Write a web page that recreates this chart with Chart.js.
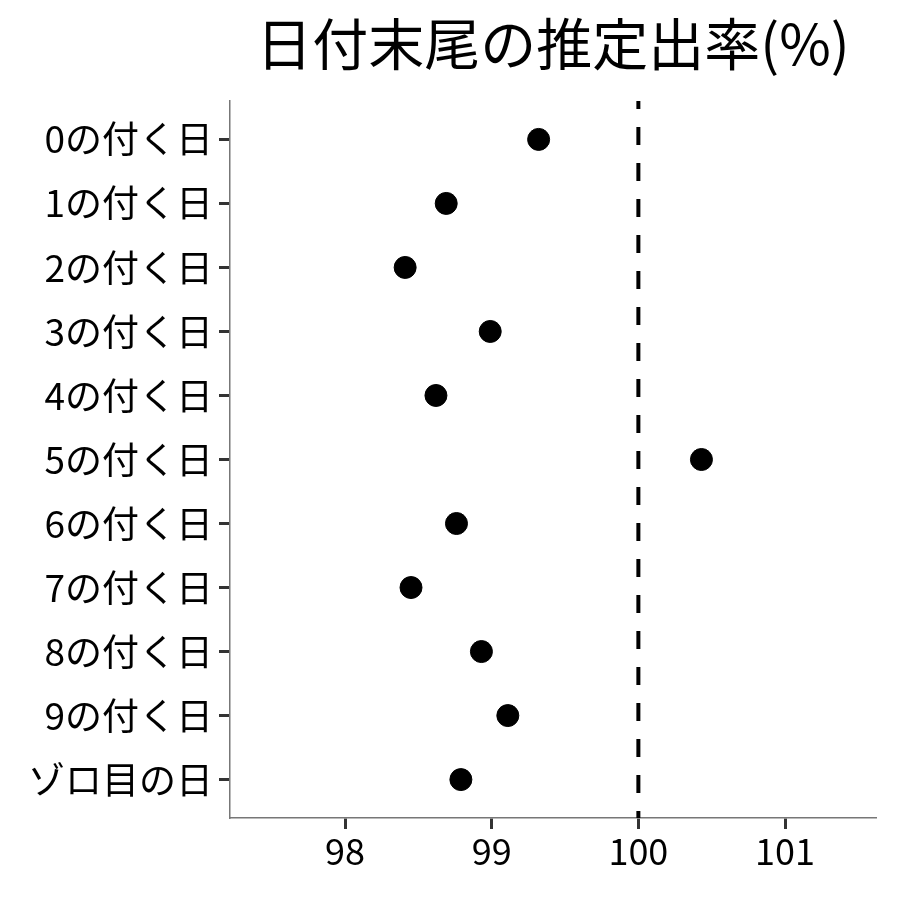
<!DOCTYPE html>
<html><head><meta charset="utf-8">
<script src="https://cdn.jsdelivr.net/npm/chart.js@4/dist/chart.umd.min.js"></script>
<style>html,body{margin:0;padding:0;background:#fff}#wrap{width:900px;height:900px}</style>
</head><body><div id="wrap"><canvas id="c" width="900" height="900"></canvas></div>
<script>
const categories = ["0の付く日","1の付く日","2の付く日","3の付く日","4の付く日","5の付く日","6の付く日","7の付く日","8の付く日","9の付く日","ゾロ目の日"];
const rates = [99.32, 98.69, 98.41, 98.99, 98.62, 100.43, 98.76, 98.45, 98.93, 99.11, 98.79];
const xTicks = [98, 99, 100, 101];
const refValue = 100;
const titleText = "日付末尾の推定出率(%)";

const FONT = "'Noto Sans CJK JP','Noto Sans',sans-serif";
const points = rates.map((v, i) => ({x: v, y: i}));

const titlePlugin = {
  id: 'panelTitle',
  afterDraw(chart) {
    const ctx = chart.ctx, a = chart.chartArea;
    ctx.save();
    ctx.font = "56px " + FONT;
    ctx.fillStyle = '#000';
    ctx.textAlign = 'center';
    ctx.textBaseline = 'middle';
    ctx.fillText(titleText, (a.left + a.right) / 2, 44);
    ctx.restore();
  }
};

new Chart(document.getElementById('c'), {
  type: 'scatter',
  data: {
    datasets: [
      {
        data: [{x: refValue, y: -0.6}, {x: refValue, y: categories.length - 1 + 0.6}],
        showLine: true, borderColor: '#000', borderWidth: 4, borderDash: [18, 18], borderDashOffset: 10,
        borderCapStyle: 'butt', pointRadius: 0, order: 2
      },
      {
        data: points, backgroundColor: '#000', borderColor: '#000',
        pointRadius: 11, pointHoverRadius: 11, order: 1
      }
    ]
  },
  options: {
    responsive: false, animation: false, events: [],
    layout: {padding: {top: 101, right: 24, left: 0, bottom: 0}},
    plugins: {legend: {display: false}, tooltip: {enabled: false}, title: {display: false}},
    scales: {
      x: {
        type: 'linear', min: 97.216, max: 101.62,
        afterBuildTicks: s => { s.ticks = xTicks.map(v => ({value: v})); },
        afterFit: s => { s.height = 82; },
        grid: {drawOnChartArea: false, drawTicks: true, tickLength: 11, tickWidth: 3, tickColor: '#333'},
        border: {display: true, color: '#777', width: 1.5},
        ticks: {color: '#000', font: {family: FONT, size: 36}, padding: 1, maxRotation: 0}
      },
      y: {
        type: 'linear', min: -0.6, max: categories.length - 1 + 0.6, reverse: true,
        afterBuildTicks: s => { s.ticks = categories.map((c, i) => ({value: i})); },
        afterFit: s => { s.width = 230; },
        grid: {drawOnChartArea: false, drawTicks: true, tickLength: 11, tickWidth: 3, tickColor: '#333'},
        border: {display: true, color: '#777', width: 1.5},
        ticks: {color: '#000', font: {family: FONT, size: 37}, padding: 6,
          callback: v => categories[v] }
      }
    }
  },
  plugins: [titlePlugin]
});
</script></body></html>
